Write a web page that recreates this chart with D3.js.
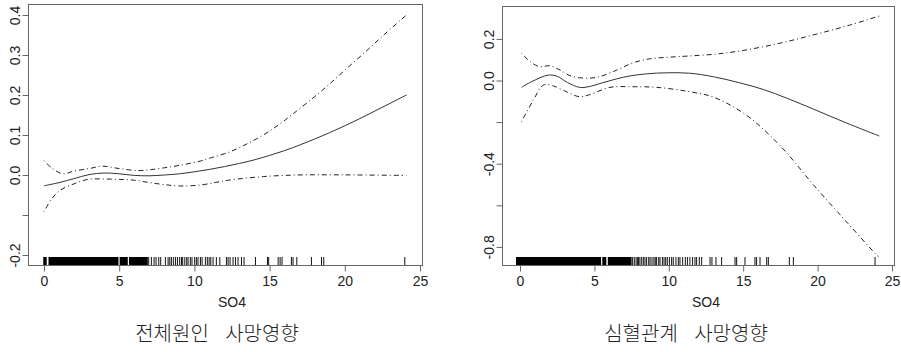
<!DOCTYPE html>
<html>
<head>
<meta charset="utf-8">
<script src="https://cdn.jsdelivr.net/npm/d3@7"></script>
<style>
  body { margin: 0; background: #fff; }
  svg { display: block; }
  text { font-family: "Liberation Sans", Arial, sans-serif; fill: #222; }
  .title { font-family: "Noto Sans CJK KR", sans-serif; font-weight: 300; word-spacing: 12px; }
</style>
</head>
<body>
<div id="chart"></div>
<script>
/*
#################################################
SECTION 1: DATA
#################################################
*/
//Left panel: all-cause mortality
var leftFitX = [0, 1, 2, 3, 4, 5, 6, 7, 8, 9, 10, 11, 12, 13, 14, 15, 16, 17, 18, 19, 20, 21, 22, 23, 24.1]
var leftFitY = [-0.027, -0.019, -0.009, 0.001, 0.005, 0.003, -0.001, -0.002, 0.0, 0.003, 0.008, 0.014, 0.021, 0.029, 0.038, 0.049, 0.061, 0.075, 0.09, 0.106, 0.123, 0.141, 0.16, 0.179, 0.2]
var leftUpX = [0, 0.5, 1.26, 2, 3, 3.9, 5, 6.25, 7, 8, 9, 10.4, 11, 12.37, 13.5, 14.58, 15.7, 16.8, 18, 19, 20, 21.2, 22.5, 24.1]
var leftUpY = [0.036, 0.018, 0.003, 0.01, 0.016, 0.022, 0.016, 0.011, 0.013, 0.018, 0.024, 0.035, 0.042, 0.058, 0.078, 0.1, 0.128, 0.16, 0.196, 0.228, 0.262, 0.302, 0.347, 0.4]
var leftLoX = [0, 0.5, 1.1, 2, 2.9, 4, 5, 6, 7, 8, 9, 10.4, 11.5, 12.37, 14.58, 16.8, 19, 21, 24.1]
var leftLoY = [-0.092, -0.06, -0.0375, -0.022, -0.011, -0.01, -0.011, -0.013, -0.019, -0.024, -0.0275, -0.025, -0.018, -0.0125, -0.004, 0.0, 0.0005, 0.0, -0.001]
var leftRugBands = [[-0.05, 0.18], [0.3, 4.95], [5.03, 5.57], [5.65, 6.9]]
var leftRugTicks = [6.96, 7.14, 7.32, 7.45, 7.63, 7.76, 8.07, 8.25, 8.36, 8.47, 8.6, 8.74, 8.87, 9.02, 9.14, 9.22, 9.36, 9.49, 9.58, 9.73, 9.84, 10.02, 10.13, 10.24, 10.4, 10.51, 10.73, 10.86, 10.98, 11.09, 11.24, 11.46, 11.69, 12.13, 12.24, 12.37, 12.57, 12.73, 12.9, 13.13, 13.3, 14.06, 14.86, 14.94, 15.57, 15.7, 15.83, 16.45, 16.56, 16.81, 17.78, 18.45, 18.6, 23.99]
var leftYTicks = [-0.2, -0.1, 0.0, 0.1, 0.2, 0.3, 0.4]
var leftYLabels = ["-0.2", "", "0.0", "0.1", "0.2", "0.3", "0.4"]

//Right panel: cardiovascular mortality
var rightFitX = [0.1, 0.8, 1.9, 2.5, 3.2, 4.0, 4.6, 5.5, 6.5, 7.4, 8.5, 9.86, 11.4, 13.0, 14.7, 16.35, 18, 19.7, 21.9, 24.15]
var rightFitY = [-0.033, -0.005, 0.026, 0.02, -0.01, -0.033, -0.03, -0.012, 0.008, 0.022, 0.032, 0.037, 0.035, 0.018, -0.01, -0.043, -0.087, -0.137, -0.203, -0.267]
var rightUpX = [0.1, 0.7, 1.34, 2.0, 2.7, 3.3, 4.0, 5.15, 6.5, 7.6, 8.7, 10, 11.4, 13.3, 15.2, 17.5, 19.7, 22, 24.15]
var rightUpY = [0.131, 0.09, 0.066, 0.071, 0.05, 0.025, 0.013, 0.015, 0.05, 0.085, 0.104, 0.112, 0.118, 0.128, 0.147, 0.18, 0.219, 0.263, 0.31]
var rightLoX = [0.1, 0.9, 1.57, 2.24, 3.0, 4.0, 4.6, 6.05, 7.5, 9.2, 11.4, 13.0, 15.2, 17.5, 19.7, 21.95, 23.86, 24.1]
var rightLoY = [-0.198, -0.094, -0.022, -0.026, -0.05, -0.078, -0.07, -0.033, -0.03, -0.033, -0.054, -0.08, -0.166, -0.315, -0.5, -0.68, -0.831, -0.848]
var rightRugBands = [[-0.27, 5.45], [5.53, 5.8], [5.9, 7.5]]
var rightRugTicks = [7.57, 7.68, 7.8, 7.89, 7.97, 8.06, 8.18, 8.29, 8.4, 8.51, 8.65, 8.74, 8.87, 9.0, 9.09, 9.18, 9.32, 9.41, 9.57, 9.68, 9.79, 9.9, 10.04, 10.19, 10.3, 10.48, 10.64, 10.75, 10.93, 11.11, 11.25, 11.42, 11.6, 11.76, 11.87, 12.05, 12.21, 12.77, 12.9, 13.17, 13.55, 14.45, 14.56, 15.12, 15.79, 15.9, 16.13, 16.58, 16.69, 18.1, 18.37, 23.86]
var rightYTicks = [-0.8, -0.6, -0.4, -0.2, 0.0, 0.2]
var rightYLabels = ["-0.8", "", "-0.4", "", "0.0", "0.2"]

var xTicks = [0, 5, 10, 15, 20, 25]
var xTitle = "SO4"
var titles = ["전체원인 사망영향", "심혈관계 사망영향"]

function zip(xs, ys) {
	return xs.map(function(x, i) {return {x: x, y: ys[i]};})
}

/*
#################################################
SECTION 2: PANEL SETUP
#################################################
*/
var panels = [
	{box: {left: 28, right: 422, top: 4, bottom: 265}, xRange: [44, 420], yDomain: [-0.2, 0.4], yRange: [255, 15],
	 fit: zip(leftFitX, leftFitY), up: zip(leftUpX, leftUpY), lo: zip(leftLoX, leftLoY),
	 bands: leftRugBands, rug: leftRugTicks, yTicks: leftYTicks, yLabels: leftYLabels, title: titles[0], titleX: 217},
	{box: {left: 502, right: 894, top: 6, bottom: 265}, xRange: [520, 892], yDomain: [-0.8, 0.2], yRange: [246.9, 38.9],
	 fit: zip(rightFitX, rightFitY), up: zip(rightUpX, rightUpY), lo: zip(rightLoX, rightLoY),
	 bands: rightRugBands, rug: rightRugTicks, yTicks: rightYTicks, yLabels: rightYLabels, title: titles[1], titleX: 686}
]

var svg = d3.select('#chart').append('svg')
		.attr('width', 901)
		.attr('height', 352)

panels.forEach(drawPanel)

/*
#################################################
SECTION 3: DRAW ONE PANEL
#################################################
*/
function drawPanel(p) {
	var b = p.box
	var xScale = d3.scaleLinear().domain([0, 25]).range(p.xRange)
	var yScale = d3.scaleLinear().domain(p.yDomain).range(p.yRange)
	var g = svg.append('g')

	//rug: dense bands then single ticks
	g.selectAll('rect.band').data(p.bands)
		.enter().append('rect')
			.attr('class', 'band')
			.attr('x', function(d) {return xScale(d[0]);})
			.attr('width', function(d) {return xScale(d[1]) - xScale(d[0]);})
			.attr('y', b.bottom - 8)
			.attr('height', 8)
			.attr('fill', '#000')
	g.selectAll('line.rug').data(p.rug)
		.enter().append('line')
			.attr('class', 'rug')
			.attr('x1', function(d) {return xScale(d);})
			.attr('x2', function(d) {return xScale(d);})
			.attr('y1', b.bottom - 8)
			.attr('y2', b.bottom)
			.attr('stroke', '#111')
			.attr('stroke-width', 1)

	//curves
	var line = d3.line()
			.x(function(d) {return xScale(d.x);})
			.y(function(d) {return yScale(d.y);})
			.curve(d3.curveCatmullRom.alpha(0.5))
	g.append('path').datum(p.fit)
			.attr('d', line)
			.attr('fill', 'none')
			.attr('stroke', '#333')
			.attr('stroke-width', 1)
	;[p.up, p.lo].forEach(function(band) {
		g.append('path').datum(band)
				.attr('d', line)
				.attr('fill', 'none')
				.attr('stroke', '#222')
				.attr('stroke-width', 1)
				.attr('stroke-dasharray', '1,3,5,3')
	})

	//box
	g.append('rect')
			.attr('x', b.left + 0.5)
			.attr('y', b.top + 0.5)
			.attr('width', b.right - b.left)
			.attr('height', b.bottom - b.top)
			.attr('fill', 'none')
			.attr('stroke', '#666')

	//x axis
	var xAxis = d3.axisBottom(xScale).tickValues(xTicks).tickSize(6).tickPadding(5)
	var xg = g.append('g')
			.attr('transform', 'translate(0,' + (b.bottom + 0.5) + ')')
			.call(xAxis)
	xg.select('.domain').remove()
	xg.selectAll('.tick line').attr('stroke', '#666')
	xg.selectAll('.tick text').style('font-size', '14px').attr('fill', '#222')

	//y axis, labels rotated like R
	var yAxis = d3.axisLeft(yScale).tickValues(p.yTicks).tickSize(6)
			.tickFormat(function(d, i) {return p.yLabels[i];})
	var yg = g.append('g')
			.attr('transform', 'translate(' + (b.left + 0.5) + ',0)')
			.call(yAxis)
	yg.select('.domain').remove()
	yg.selectAll('.tick line').attr('stroke', '#666')
	yg.selectAll('.tick text')
			.attr('x', null).attr('dy', null)
			.attr('text-anchor', 'middle')
			.attr('transform', 'translate(-9,0) rotate(-90)')
			.style('font-size', '14px')
			.attr('fill', '#222')

	g.append('text')
			.attr('x', (p.xRange[0] + p.xRange[1]) / 2)
			.attr('y', 306.5)
			.attr('text-anchor', 'middle')
			.style('font-size', '14px')
			.text(xTitle)

	g.append('text')
			.attr('class', 'title')
			.attr('x', p.titleX)
			.attr('y', 341)
			.attr('text-anchor', 'middle')
			.style('font-size', '20px')
			.text(p.title)
}
</script>
</body>
</html>
